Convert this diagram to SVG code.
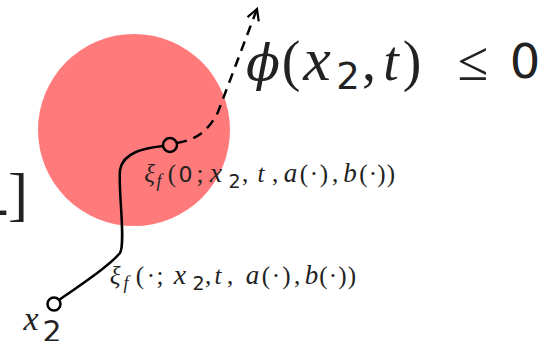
<svg xmlns="http://www.w3.org/2000/svg" width="558" height="341" viewBox="0 0 558 341">
<style>
.m{font-style:italic;fill:#222}
.s{fill:#222}
.r{fill:#222}
.ln{fill:none;stroke:#000;stroke-width:2.5}
.dot{fill:none;stroke:#000;stroke-width:2.5}
</style>
<defs>
<marker id="ah" viewBox="0 0 14 14" refX="12" refY="7" markerWidth="14" markerHeight="14" markerUnits="userSpaceOnUse" orient="auto">
<path d="M1,1 L12,7 L1,13" fill="none" stroke="#000" stroke-width="2.2"/>
</marker>
</defs>
<g id="region">
<circle cx="134" cy="130" r="96" fill="#FF7B7B"/>
</g>
<g id="bracket" font-family="Liberation Serif">
<text class="r" x="-11.5" y="227" font-size="60">-</text>
<text class="r" x="18" y="214" font-size="60" text-anchor="middle">]</text>
</g>
<g id="connectors">
<path class="ln" d="M59,300 C85,282 110,265 120,253 C126,243 118,190 120,170 C123,152 145,148 163,146"/>
<path class="ln" d="M177,143 C195,140 208,132 218,112 L257,9" stroke-dasharray="10,7" marker-end="url(#ah)"/>
</g>
<g id="start">
<circle class="dot" cx="54" cy="304" r="6.5"/>
<text text-anchor="middle" font-family="Liberation Serif"><tspan class="m" x="31" y="330" font-size="34">x</tspan><tspan class="s" font-family="DejaVu Sans" x="52" y="342" font-size="30">2</tspan></text>
</g>
<g id="endpoint">
<circle class="dot" cx="170" cy="145" r="7"/>
</g>
<g id="label-phi">
<text text-anchor="middle" font-size="56" font-family="Liberation Serif"><tspan class="m" font-family="DejaVu Serif" x="263" y="80" font-size="50">ϕ</tspan><tspan class="r" x="291" y="80">(</tspan><tspan class="m" x="317" y="80" font-size="62">x</tspan><tspan class="s" font-family="DejaVu Sans" x="348" y="89" font-size="37">2</tspan><tspan class="r" x="369" y="80">,</tspan><tspan class="m" x="391" y="80">t</tspan><tspan class="r" x="412" y="80">)</tspan><tspan class="r" x="473" y="80">≤</tspan><tspan class="s" font-family="DejaVu Sans" x="525" y="78" font-size="48">0</tspan></text>
</g>
<g id="label-xi0">
<text text-anchor="middle" font-size="25" font-family="Liberation Serif"><tspan class="m" x="149.5" y="182">ξ</tspan><tspan class="m" x="159" y="187" font-size="18">f</tspan><tspan class="r" x="172" y="182">(</tspan><tspan class="s" font-family="DejaVu Sans" x="185.5" y="182" font-size="22">0</tspan><tspan class="r" x="200" y="182">;</tspan><tspan class="m" x="216" y="182" font-size="28">x</tspan><tspan class="s" font-family="DejaVu Sans" x="234.5" y="188" font-size="19">2</tspan><tspan class="r" x="245" y="182">,</tspan><tspan class="m" x="261" y="182">t</tspan><tspan class="r" x="275" y="182">,</tspan><tspan class="m" x="290.5" y="182" font-size="27">a</tspan><tspan class="r" x="304" y="182">(</tspan><tspan class="r" x="314" y="182">·</tspan><tspan class="r" x="324" y="182">)</tspan><tspan class="r" x="335" y="182">,</tspan><tspan class="m" x="350" y="182" font-size="27">b</tspan><tspan class="r" x="363.5" y="182">(</tspan><tspan class="r" x="373" y="182">·</tspan><tspan class="r" x="381.5" y="182">)</tspan><tspan class="r" x="391" y="182">)</tspan></text>
</g>
<g id="label-xi">
<text text-anchor="middle" font-size="25" font-family="Liberation Serif"><tspan class="m" x="115" y="284">ξ</tspan><tspan class="m" x="126" y="289" font-size="18">f</tspan><tspan class="r" x="140" y="284">(</tspan><tspan class="r" x="151" y="284">·</tspan><tspan class="r" x="160" y="284">;</tspan><tspan class="m" x="180" y="284" font-size="28">x</tspan><tspan class="s" font-family="DejaVu Sans" x="198.5" y="290" font-size="19">2</tspan><tspan class="r" x="208" y="284">,</tspan><tspan class="m" x="218" y="284">t</tspan><tspan class="r" x="230" y="284">,</tspan><tspan class="m" x="252.5" y="284" font-size="27">a</tspan><tspan class="r" x="266" y="284">(</tspan><tspan class="r" x="276" y="284">·</tspan><tspan class="r" x="286.5" y="284">)</tspan><tspan class="r" x="297" y="284">,</tspan><tspan class="m" x="311.5" y="284" font-size="27">b</tspan><tspan class="r" x="323.5" y="284">(</tspan><tspan class="r" x="333" y="284">·</tspan><tspan class="r" x="342.5" y="284">)</tspan><tspan class="r" x="352" y="284">)</tspan></text>
</g>
</svg>
